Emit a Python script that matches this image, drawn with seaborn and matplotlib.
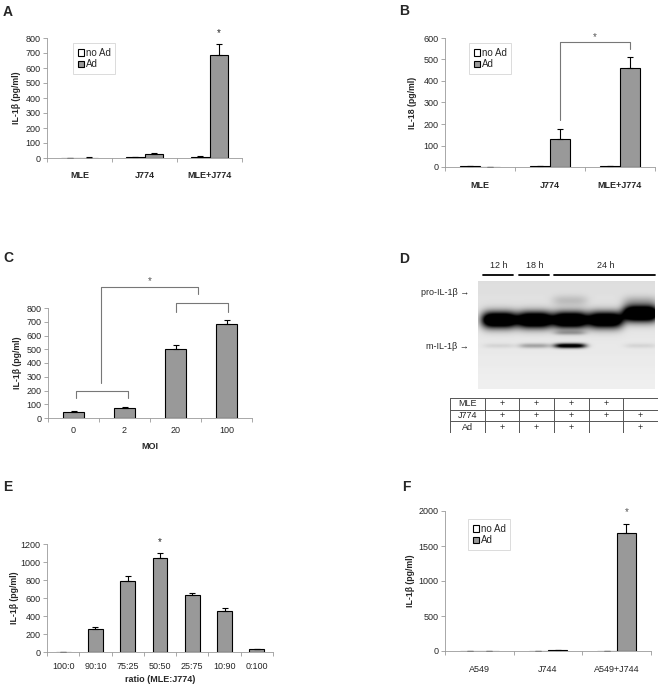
import matplotlib
matplotlib.use('Agg')
import matplotlib.pyplot as plt
from matplotlib.patches import Patch
import seaborn as sns
import pandas as pd
import numpy as np

W, H = 661, 687
BAR_GRAY = '#999999'
AXIS_GRAY = '#9a9a9a'

# ---- panel A: IL-1beta, co-culture
a_cells = ['MLE', 'J774', 'MLE+J774']
a_noad = [0, 5, 8]
a_noad_err = [1, 2, 8]
a_ad = [3, 25, 685]
a_ad_err = [2, 6, 75]

# ---- panel B: IL-18
b_cells = ['MLE', 'J774', 'MLE+J774']
b_noad = [3, 3, 3]
b_noad_err = [0, 0, 0]
b_ad = [2, 130, 460]
b_ad_err = [0, 45, 50]

# ---- panel C: MOI
c_moi = ['0', '2', '20', '100']
c_val = [45, 75, 500, 685]
c_err = [5, 6, 30, 30]
# brackets: x1, x2, y, left leg end, right leg end
c_brackets = [(0.05, 1.07, 196, 145, 145),
              (2.0, 3.03, 836, 771, 771),
              (0.54, 2.44, 952, 254, 902)]

# ---- panel D: blot
d_times = ['12 h', '18 h', '24 h']
d_time_lanes = [(0, 0), (1, 1), (2, 4)]
d_pro = [1.5, 1.5, 1.5, 1.45, 1.6]
d_pro_pos = [0.64, 0.64, 0.64, 0.64, 0.70]
d_smear = [0.0, 0.0, 0.14, 0.0, 0.14]
d_m = [0.08, 0.28, 1.1, 0.0, 0.08]
d_rows = ['MLE', 'J774', 'Ad']
d_mle = ['+', '+', '+', '+', '']
d_j774 = ['+', '+', '+', '+', '+']
d_adv = ['+', '+', '+', '', '+']

# ---- panel E: ratio
e_ratio = ['100:0', '90:10', '75:25', '50:50', '25:75', '10:90', '0:100']
e_val = [2, 255, 790, 1050, 635, 460, 35]
e_err = [0, 20, 55, 50, 20, 30, 3]

# ---- panel F: A549
f_cells = ['A549', 'J744', 'A549+J744']
f_noad = [5, 5, 5]
f_noad_err = [0, 0, 0]
f_ad = [2, 15, 1690]
f_ad_err = [0, 4, 120]

sns.set_style('white')
plt.rcParams['font.family'] = ['Liberation Sans', 'DejaVu Sans']

fig = plt.figure(figsize=(W / 100, H / 100), dpi=100)
fig.patch.set_facecolor('white')


def px_axes(left, top, right, bottom):
    return fig.add_axes([left / W, 1 - bottom / H, (right - left) / W, (bottom - top) / H])


def excel_style(ax, labels, ymax, ystep, bold_x=True, xpad=8):
    n = len(labels)
    ax.set_xlim(-0.5, n - 0.5)
    ax.set_ylim(0, ymax)
    ax.set_yticks(np.arange(0, ymax + 1, ystep))
    ax.set_xticks(np.arange(n))
    ax.set_xticklabels(labels, fontweight='bold' if bold_x else 'normal')
    ax.set_xticks(np.arange(-0.5, n), minor=True)
    ax.tick_params(axis='x', which='major', length=0, pad=xpad, labelsize=6.5)
    ax.tick_params(axis='x', which='minor', length=3, color=AXIS_GRAY, width=0.6, bottom=True)
    ax.tick_params(axis='y', length=3, color=AXIS_GRAY, width=0.6, labelsize=6.5, pad=1.5, left=True)
    for s in ['top', 'right']:
        ax.spines[s].set_visible(False)
    for s in ['left', 'bottom']:
        ax.spines[s].set_color(AXIS_GRAY)
        ax.spines[s].set_linewidth(0.6)
    ax.grid(False)
    ax.set_xlabel('')


def add_errors(ax, errs):
    bars = sorted(ax.patches, key=lambda p: p.get_x())
    xs = [p.get_x() + p.get_width() / 2 for p in bars]
    ys = [p.get_height() for p in bars]
    ax.errorbar(xs, ys, yerr=[np.zeros(len(errs)), errs], fmt='none',
                ecolor='black', elinewidth=0.8, capsize=2.5, capthick=0.8)


def grouped(ax, cells, noad, noad_err, ad, ad_err):
    df = pd.DataFrame({'cell': cells * 2,
                       'cond': ['no Ad'] * len(cells) + ['Ad'] * len(cells),
                       'val': noad + ad})
    sns.barplot(data=df, x='cell', y='val', hue='cond', order=cells,
                hue_order=['no Ad', 'Ad'], palette={'no Ad': 'white', 'Ad': BAR_GRAY},
                width=0.56, gap=0, errorbar=None, legend=False, saturation=1,
                edgecolor='black', linewidth=0.8, ax=ax)
    errs = []
    for e1, e2 in zip(noad_err, ad_err):
        errs += [e1, e2]
    add_errors(ax, errs)


def legend(ax, anchor):
    handles = [Patch(facecolor='white', edgecolor='black', linewidth=0.8, label='no Ad'),
               Patch(facecolor=BAR_GRAY, edgecolor='black', linewidth=0.8, label='Ad')]
    lg = ax.legend(handles=handles, loc='upper left', bbox_to_anchor=anchor, frameon=True,
                   fancybox=False, edgecolor='#cccccc', fontsize=7, handlelength=0.6,
                   handleheight=0.6, handletextpad=0.2, borderpad=0.5, labelspacing=0.15,
                   borderaxespad=0)
    lg.get_frame().set_linewidth(0.6)


def bracket(ax, x1, x2, y, y1, y2):
    ax.plot([x1, x1, x2, x2], [y1, y, y, y2], color='#777777', lw=0.8, clip_on=False)


def letter(x, y, s):
    fig.text(x / W, 1 - y / H, s, ha='left', va='center', fontsize=10, fontweight='bold')


ylab = 'IL-1β (pg/ml)'

# A
axA = px_axes(47, 38, 242, 158)
grouped(axA, a_cells, a_noad, a_noad_err, a_ad, a_ad_err)
excel_style(axA, a_cells, 800, 100, bold_x=True, xpad=9)
axA.set_ylabel(ylab, fontsize=6.3, fontweight='bold', labelpad=3)
legend(axA, (0.133, 0.958))
axA.text(2.14, 833, '*', ha='center', va='center', fontsize=7)
letter(3, 12, 'A')

# B
axB = px_axes(445, 38, 655, 167)
grouped(axB, b_cells, b_noad, b_noad_err, b_ad, b_ad_err)
excel_style(axB, b_cells, 600, 100, bold_x=True, xpad=10)
axB.set_ylabel('IL-18 (pg/ml)', fontsize=6.3, fontweight='bold', labelpad=5)
legend(axB, (0.114, 0.961))
bracket(axB, 1.14, 2.14, 581, 218, 548)
axB.text(1.64, 604, '*', ha='center', va='center', fontsize=7, color='#555555')
letter(399, 11, 'B')

# C
axC = px_axes(48, 308, 252, 418)
sns.barplot(x=c_moi, y=c_val, order=c_moi, color=BAR_GRAY, width=0.41, saturation=1,
            errorbar=None, edgecolor='black', linewidth=0.8, ax=axC)
add_errors(axC, c_err)
excel_style(axC, c_moi, 800, 100, bold_x=False, xpad=6)
axC.set_ylabel(ylab, fontsize=6.3, fontweight='bold', labelpad=3)
axC.set_xlabel('MOI', fontsize=6.5, fontweight='bold', labelpad=5)
for b in c_brackets:
    bracket(axC, *b)
axC.text(1.5, 996, '*', ha='center', va='center', fontsize=7, color='#555555')
letter(3, 258, 'C')

# D blot (rendered from the lane intensities above)
axD = px_axes(478, 281, 655, 389)
xs = np.linspace(-0.6, 4.4, 354)
ys = np.linspace(1, 0, 216)
X, Y = np.meshgrid(xs, ys)
img = 0.06 + 0.07 * Y
for i in range(5):
    hx = np.exp(-((X - i) / 0.5) ** 4)
    img += d_pro[i] * hx * np.exp(-((Y - d_pro_pos[i]) / 0.075) ** 2)
    img += d_smear[i] * hx * np.exp(-((Y - 0.82) / 0.05) ** 2)
    hm = np.exp(-((X - i) / 0.45) ** 4)
    img += d_m[i] * hm * np.exp(-((Y - 0.40) / 0.022) ** 2)
img += 0.22 * np.exp(-((X - 2) / 0.45) ** 4) * np.exp(-((Y - 0.52) / 0.02) ** 2)
axD.imshow(np.clip(img, 0, 1), cmap='gray_r', vmin=0, vmax=1, extent=(-0.6, 4.4, 0, 1),
           aspect='auto', interpolation='bilinear')
axD.set_xlim(-0.6, 4.4)
axD.set_ylim(0, 1)
axD.axis('off')
for t, (l0, l1) in zip(d_times, d_time_lanes):
    axD.plot([l0 - 0.45, l1 + 0.4], [1.056, 1.056], color='black', lw=1.3, clip_on=False)
    axD.text((l0 + l1) / 2, 1.14, t, ha='center', va='center', fontsize=6.5)
axD.text(-0.85, 0.89, 'pro-IL-1β →', ha='right', va='center', fontsize=6.5)
axD.text(-0.85, 0.39, 'm-IL-1β →', ha='right', va='center', fontsize=6.5)
letter(399, 259, 'D')

# D table
axT = px_axes(450, 398, 658, 433)
axT.set_xlim(-1.5, 4.5)
axT.set_ylim(0, 3)
axT.axis('off')
for yy in range(4):
    axT.plot([-1.5, 4.5], [yy, yy], color='#555555', lw=0.7)
for xx in np.arange(-1.5, 5):
    axT.plot([xx, xx], [0, 3], color='#555555', lw=0.7)
for r, (name, row) in enumerate(zip(d_rows, [d_mle, d_j774, d_adv])):
    yc = 2.5 - r
    axT.text(-1, yc, name, ha='center', va='center', fontsize=6.5)
    for i, s in enumerate(row):
        axT.text(i, yc, s, ha='center', va='center', fontsize=6.5)

# E
axE = px_axes(47, 544, 273, 652)
sns.barplot(x=e_ratio, y=e_val, order=e_ratio, color=BAR_GRAY, width=0.46, saturation=1,
            errorbar=None, edgecolor='black', linewidth=0.8, ax=axE)
add_errors(axE, e_err)
excel_style(axE, e_ratio, 1200, 200, bold_x=False, xpad=7)
axE.set_ylabel(ylab, fontsize=6.3, fontweight='bold', labelpad=1)
axE.set_xlabel('ratio (MLE:J774)', fontsize=6.5, fontweight='bold', labelpad=3)
axE.text(3, 1222, '*', ha='center', va='center', fontsize=7)
letter(3, 487, 'E')

# F
axF = px_axes(445, 511, 651, 651)
grouped(axF, f_cells, f_noad, f_noad_err, f_ad, f_ad_err)
excel_style(axF, f_cells, 2000, 500, bold_x=False, xpad=10)
axF.set_ylabel(ylab, fontsize=6.3, fontweight='bold', labelpad=3)
legend(axF, (0.112, 0.943))
axF.text(2.14, 1990, '*', ha='center', va='center', fontsize=7, color='#555555')
letter(402, 487, 'F')

fig.savefig('out.png', dpi=100)
